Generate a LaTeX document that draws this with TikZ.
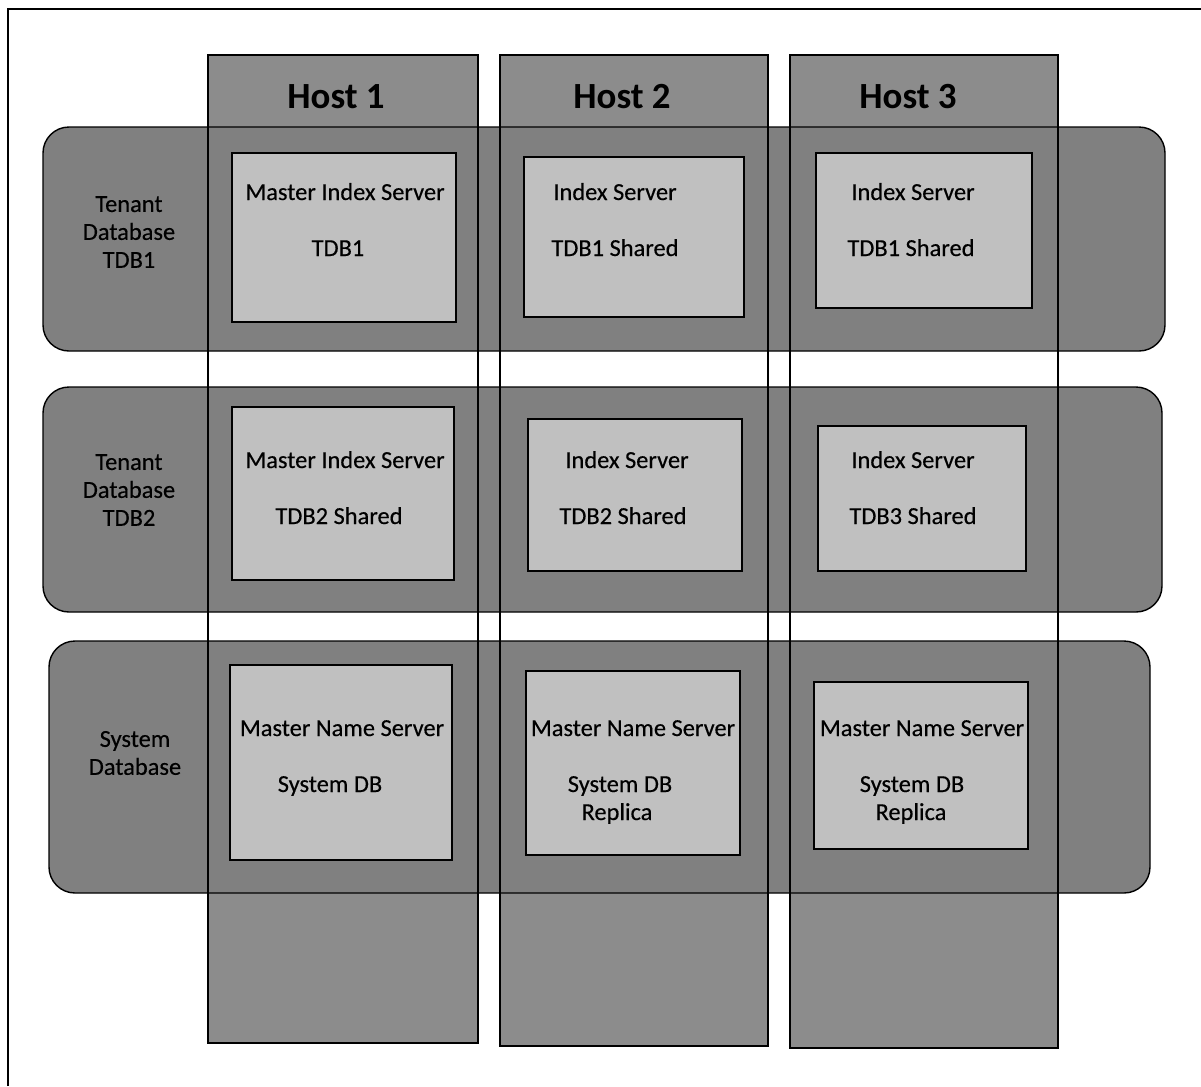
\documentclass[tikz,border=0pt]{standalone}
\usepackage{fontspec}
\setmainfont{Carlito}
\newfontfamily\srvfont{Carlito}[FakeBold=0.35]
\definecolor{hostgray}{HTML}{8C8C8C}
\definecolor{rowgray}{HTML}{808080}
\definecolor{srvgray}{HTML}{C0C0C0}

\begin{document}
\begin{tikzpicture}[x=0.02cm, y=-0.02cm, line width=0.8pt,
    hostcol/.style={fill=hostgray},
    dbrow/.style={draw, fill=rowgray, rounded corners=0.52cm},
    srvbox/.style={draw, fill=srvgray},
    hostlbl/.style={font=\fontsize{21}{24}\selectfont\bfseries, anchor=base},
    txt/.style={font=\srvfont\fontsize{13.9}{16}\selectfont, anchor=base},
    rowlbl/.style={font=\srvfont\fontsize{13.9}{15.9}\selectfont, align=center}]

    \useasboundingbox (0,0) rectangle (1201,1086);
    \draw (8,1086) -- (8,9) -- (1201,9);

    % host columns (filled above and below the rows)
    \foreach \l/\r/\b in {208/478/1043, 500/768/1046, 790/1058/1048} {
        \fill[hostcol] (\l,55) rectangle (\r,127);
        \fill[hostcol] (\l,893) rectangle (\r,\b);
    }

    % database rows
    \draw[dbrow] (43,127) rectangle (1165,351);
    \draw[dbrow] (43,387) rectangle (1162,612);
    \draw[dbrow] (49,641) rectangle (1150,893);

    % column outlines on top
    \foreach \l/\r/\b in {208/478/1043, 500/768/1046, 790/1058/1048}
        \draw (\l,55) rectangle (\r,\b);

    \node[hostlbl] (host1) at (336,108) {Host 1};
    \node[hostlbl] (host2) at (622,108) {Host 2};
    \node[hostlbl] (host3) at (908,108) {Host 3};

    \node[rowlbl] (tdb1) at (129,232) {Tenant\\Database\\TDB1};
    \node[rowlbl] (tdb2) at (129,490) {Tenant\\Database\\TDB2};
    \node[rowlbl] (sysdb) at (135,753) {System\\Database};

    % server boxes
    \draw[srvbox] (232,153) rectangle (456,322);
    \draw[srvbox] (524,157) rectangle (744,317);
    \draw[srvbox] (816,153) rectangle (1032,308);
    \draw[srvbox] (232,407) rectangle (454,580);
    \draw[srvbox] (528,419) rectangle (742,571);
    \draw[srvbox] (818,426) rectangle (1026,571);
    \draw[srvbox] (230,665) rectangle (452,860);
    \draw[srvbox] (526,671) rectangle (740,855);
    \draw[srvbox] (814,682) rectangle (1028,849);

    \node[txt] (s11a) at (345,200) {Master Index Server};
    \node[txt] (s11b) at (338,256) {TDB1};
    \node[txt] (s12a) at (615,200) {Index Server};
    \node[txt] (s12b) at (615,256) {TDB1 Shared};
    \node[txt] (s13a) at (913,200) {Index Server};
    \node[txt] (s13b) at (911,256) {TDB1 Shared};

    \node[txt] (s21a) at (345,468) {Master Index Server};
    \node[txt] (s21b) at (339,524) {TDB2 Shared};
    \node[txt] (s22a) at (627,468) {Index Server};
    \node[txt] (s22b) at (623,524) {TDB2 Shared};
    \node[txt] (s23a) at (913,468) {Index Server};
    \node[txt] (s23b) at (913,524) {TDB3 Shared};

    \node[txt] (s31a) at (342,736) {Master Name Server};
    \node[txt] (s31b) at (330,792) {System DB};
    \node[txt] (s32a) at (633,736) {Master Name Server};
    \node[txt] (s32b) at (620,792) {System DB};
    \node[txt] (s32c) at (617,820) {Replica};
    \node[txt] (s33a) at (922,736) {Master Name Server};
    \node[txt] (s33b) at (912,792) {System DB};
    \node[txt] (s33c) at (911,820) {Replica};

\end{tikzpicture}
\end{document}
